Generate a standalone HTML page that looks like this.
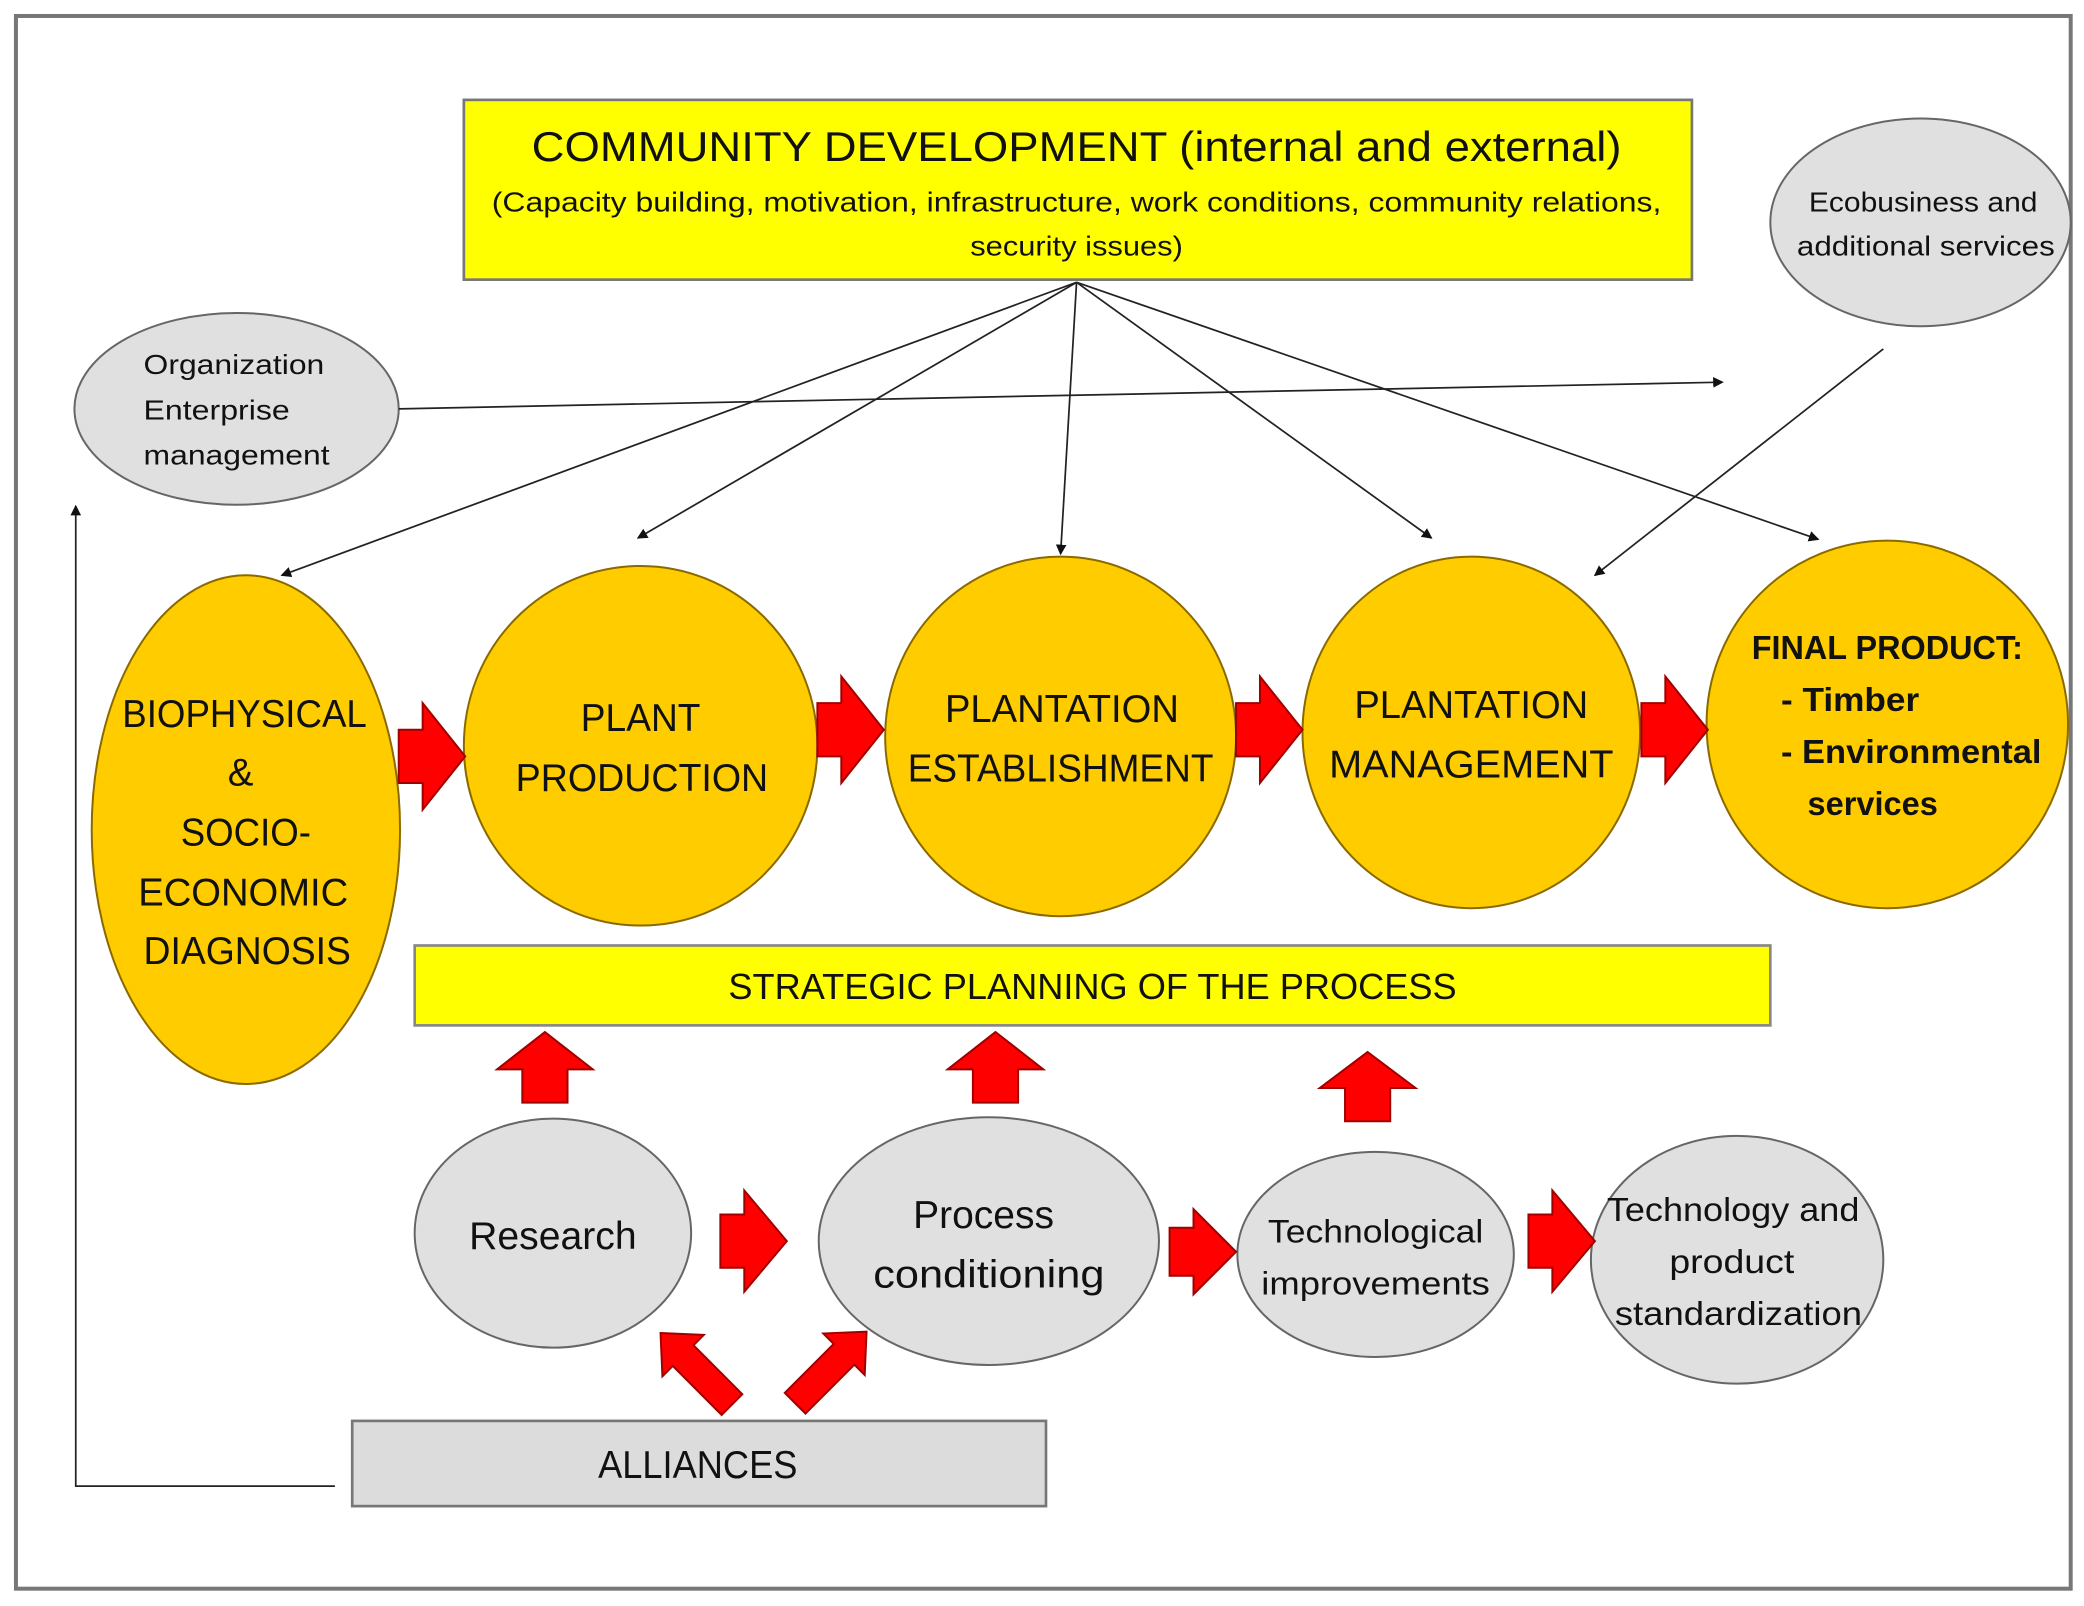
<!DOCTYPE html>
<html><head><meta charset="utf-8"><style>html,body{margin:0;padding:0;background:#fff}svg{display:block}text{font-family:"Liberation Sans",sans-serif;fill:#111}</style></head>
<body>
<svg width="2084" height="1606" viewBox="0 0 1568 1206" preserveAspectRatio="none" xmlns="http://www.w3.org/2000/svg">
<defs><marker id="ah" markerWidth="8" markerHeight="8" refX="7" refY="4" orient="auto" markerUnits="userSpaceOnUse"><path d="M0,0 L8,4 L0,8 z" fill="#111"/></marker></defs>
<rect x="12" y="12" width="1546" height="1181" fill="#fff" stroke="#777" stroke-width="3"/>
<!-- top box -->
<rect x="349" y="75" width="924" height="135" fill="#ffff00" stroke="#777" stroke-width="2"/>
<text x="810" y="121" font-size="31" text-anchor="middle" textLength="820" lengthAdjust="spacingAndGlyphs">COMMUNITY DEVELOPMENT  (internal and external)</text>
<text x="810" y="159" font-size="21" text-anchor="middle" textLength="880" lengthAdjust="spacingAndGlyphs">(Capacity building, motivation, infrastructure, work conditions, community relations,</text>
<text x="810" y="192" font-size="21" text-anchor="middle" textLength="160" lengthAdjust="spacingAndGlyphs">security issues)</text>
<!-- eco -->
<ellipse cx="1445" cy="167" rx="113" ry="78" fill="#e0e0e0" stroke="#666" stroke-width="1.5"/>
<text x="1447" y="159" font-size="21" text-anchor="middle" textLength="172" lengthAdjust="spacingAndGlyphs">Ecobusiness and</text>
<text x="1449" y="192" font-size="21" text-anchor="middle" textLength="194" lengthAdjust="spacingAndGlyphs">additional services</text>
<!-- org -->
<ellipse cx="178" cy="307" rx="122" ry="72" fill="#e0e0e0" stroke="#666" stroke-width="1.5"/>
<text x="108" y="281" font-size="21" textLength="136" lengthAdjust="spacingAndGlyphs">Organization</text>
<text x="108" y="315" font-size="21" textLength="110" lengthAdjust="spacingAndGlyphs">Enterprise</text>
<text x="108" y="349" font-size="21" textLength="140" lengthAdjust="spacingAndGlyphs">management</text>
<!-- lines -->
<g stroke="#222" stroke-width="1.3" fill="none" marker-end="url(#ah)">
<line x1="300" y1="307" x2="1296" y2="287"/>
<polyline points="252,1116 57,1116 57,380"/>
<line x1="810" y1="212" x2="212" y2="432"/>
<line x1="810" y1="212" x2="480" y2="404"/>
<line x1="810" y1="212" x2="798" y2="416"/>
<line x1="810" y1="212" x2="1077" y2="404"/>
<line x1="810" y1="212" x2="1368" y2="405"/>
<line x1="1417" y1="262" x2="1200" y2="432"/>
</g>
<!-- orange -->
<g fill="#ffcc00" stroke="#8a6a00" stroke-width="1.5">
<ellipse cx="185" cy="623" rx="116" ry="191"/>
<ellipse cx="482" cy="560" rx="133" ry="135"/>
<ellipse cx="798" cy="553" rx="132" ry="135"/>
<ellipse cx="1107" cy="550" rx="127" ry="132"/>
<ellipse cx="1420" cy="544" rx="136" ry="138"/>
</g>
<g font-size="29" text-anchor="middle">
<text x="184" y="546" textLength="184" lengthAdjust="spacingAndGlyphs">BIOPHYSICAL</text>
<text x="181" y="590">&amp;</text>
<text x="185" y="635" textLength="98" lengthAdjust="spacingAndGlyphs">SOCIO-</text>
<text x="183" y="680" textLength="158" lengthAdjust="spacingAndGlyphs">ECONOMIC</text>
<text x="186" y="724" textLength="156" lengthAdjust="spacingAndGlyphs">DIAGNOSIS</text>
<text x="482" y="549" textLength="90" lengthAdjust="spacingAndGlyphs">PLANT</text>
<text x="483" y="594" textLength="190" lengthAdjust="spacingAndGlyphs">PRODUCTION</text>
<text x="799" y="542" textLength="176" lengthAdjust="spacingAndGlyphs">PLANTATION</text>
<text x="798" y="587" textLength="230" lengthAdjust="spacingAndGlyphs">ESTABLISHMENT</text>
<text x="1107" y="539" textLength="176" lengthAdjust="spacingAndGlyphs">PLANTATION</text>
<text x="1107" y="584" textLength="214" lengthAdjust="spacingAndGlyphs">MANAGEMENT</text>
</g>
<g font-size="25" font-weight="bold">
<text x="1318" y="495" textLength="204" lengthAdjust="spacingAndGlyphs">FINAL PRODUCT:</text>
<text x="1340" y="534" textLength="104" lengthAdjust="spacingAndGlyphs">- Timber</text>
<text x="1340" y="573" textLength="196" lengthAdjust="spacingAndGlyphs">- Environmental</text>
<text x="1360" y="612" textLength="98" lengthAdjust="spacingAndGlyphs">services</text>
</g>
<!-- strategic -->
<rect x="312" y="710" width="1020" height="60" fill="#ffff00" stroke="#888" stroke-width="2"/>
<text x="822" y="750" font-size="27" text-anchor="middle" textLength="548" lengthAdjust="spacingAndGlyphs">STRATEGIC PLANNING OF THE PROCESS</text>
<!-- gray ellipses -->
<g fill="#e0e0e0" stroke="#666" stroke-width="1.5">
<ellipse cx="416" cy="926" rx="104" ry="86"/>
<ellipse cx="744" cy="932" rx="128" ry="93"/>
<ellipse cx="1035" cy="942" rx="104" ry="77"/>
<ellipse cx="1307" cy="946" rx="110" ry="93"/>
</g>
<g text-anchor="middle">
<text x="416" y="938" font-size="29" textLength="126" lengthAdjust="spacingAndGlyphs">Research</text>
<text x="740" y="922" font-size="29" textLength="106" lengthAdjust="spacingAndGlyphs">Process</text>
<text x="744" y="967" font-size="29" textLength="174" lengthAdjust="spacingAndGlyphs">conditioning</text>
<text x="1035" y="933" font-size="24" textLength="162" lengthAdjust="spacingAndGlyphs">Technological</text>
<text x="1035" y="972" font-size="24" textLength="172" lengthAdjust="spacingAndGlyphs">improvements</text>
<text x="1304" y="917" font-size="25" textLength="190" lengthAdjust="spacingAndGlyphs">Technology and</text>
<text x="1303" y="956" font-size="25" textLength="94" lengthAdjust="spacingAndGlyphs">product</text>
<text x="1308" y="995" font-size="25" textLength="186" lengthAdjust="spacingAndGlyphs">standardization</text>
</g>
<!-- alliances -->
<rect x="265" y="1067" width="522" height="64" fill="#dcdcdc" stroke="#777" stroke-width="2"/>
<text x="525" y="1110" font-size="29" text-anchor="middle" textLength="150" lengthAdjust="spacingAndGlyphs">ALLIANCES</text>
<!-- red arrows -->
<g fill="#ff0000" stroke="#a00000" stroke-width="1.5">
<polygon points="300,548 318,548 318,528 350,568 318,608 318,588 300,588"/>
<polygon points="615,528 633,528 633,508 665,548 633,588 633,568 615,568"/>
<polygon points="930,528 948,528 948,508 980,548 948,588 948,568 930,568"/>
<polygon points="1235,528 1253,528 1253,508 1285,548 1253,588 1253,568 1235,568"/>
<polygon points="542,912 560,912 560,894 592,932 560,970 560,952 542,952"/>
<polygon points="880,922 898,922 898,908 930,940 898,972 898,958 880,958"/>
<polygon points="1150,912 1168,912 1168,894 1200,932 1168,970 1168,952 1150,952"/>
<polygon points="410,775 446,803 427,803 427,828 393,828 393,803 374,803"/>
<polygon points="749,775 785,803 766,803 766,828 732,828 732,803 713,803"/>
<polygon points="1029,790 1065,817 1046,817 1046,842 1012,842 1012,817 993,817"/>
<polygon transform="translate(497,1001) rotate(-45)" points="0,0 22,24 11,24 11,76 -11,76 -11,24 -22,24"/>
<polygon transform="translate(652,1000) rotate(45)" points="0,0 22,24 11,24 11,76 -11,76 -11,24 -22,24"/>
</g>
</svg>
</body></html>
